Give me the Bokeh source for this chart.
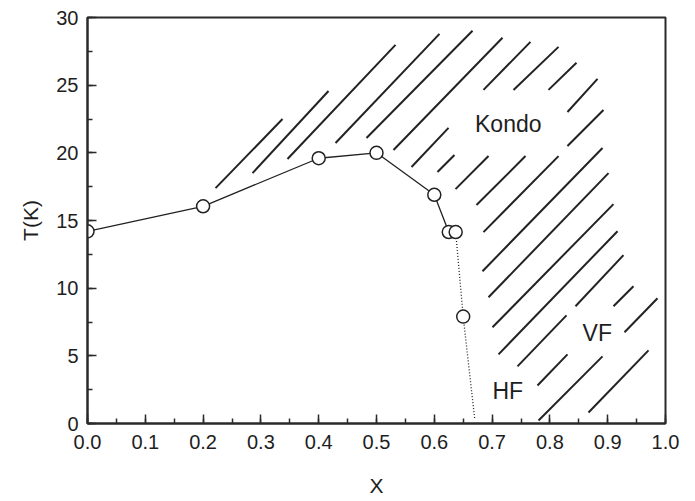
from bokeh.plotting import figure
from bokeh.models import Range1d, SingleIntervalTicker, PrintfTickFormatter, ColumnDataSource, Label
from bokeh.embed import file_html
from bokeh.resources import INLINE

# measured points (x, T in K)
x_pts = [0.0, 0.2, 0.4, 0.5, 0.6, 0.625, 0.637, 0.65]
t_pts = [14.2, 16.05, 19.6, 20.0, 16.9, 14.15, 14.15, 7.9]

# solid connecting line
x_solid = [0.0, 0.2, 0.4, 0.5, 0.6, 0.625, 0.637]
t_solid = [14.2, 16.05, 19.6, 20.0, 16.9, 14.15, 14.15]

# dotted extrapolation
x_dot = [0.637, 0.65, 0.67]
t_dot = [14.15, 7.9, 0.3]

# hatch strokes of the Kondo region (start/end in data units)
hx0 = [0.2215, 0.2855, 0.3460, 0.4291, 0.4827, 0.5294, 0.5606, 0.6055, 0.6851, 0.7370,
       0.7976, 0.8304, 0.8304, 0.6367, 0.6730, 0.6851, 0.6834, 0.6938, 0.7007, 0.7111,
       0.7439, 0.8443, 0.9100, 0.9291, 0.7785, 0.7803, 0.8668]
hy0 = [17.39, 18.50, 19.54, 20.73, 21.10, 20.21, 18.95, 18.58, 24.65, 24.65,
       24.65, 23.02, 20.50, 17.32, 16.14, 14.14, 11.25, 9.33, 7.11, 5.11,
       4.22, 8.66, 8.66, 6.74, 2.81, 0.22, 0.81]
hx1 = [0.3374, 0.4170, 0.5329, 0.6090, 0.6661, 0.7180, 0.6246, 0.6349, 0.7664, 0.8149,
       0.8460, 0.8824, 0.8927, 0.6938, 0.7578, 0.8149, 0.8910, 0.9014, 0.9100, 0.9170,
       0.8287, 0.9273, 0.9446, 0.9862, 0.8304, 0.8910, 0.9706]
hy1 = [22.50, 24.57, 27.98, 28.79, 29.02, 28.50, 21.84, 19.84, 28.20, 27.83,
       26.65, 25.46, 23.17, 19.76, 19.76, 19.76, 20.36, 18.50, 16.21, 14.21,
       7.99, 12.44, 10.14, 9.25, 5.11, 4.96, 5.40]

# region labels
region_names = ["Kondo", "VF", "HF"]
region_x = [0.728, 0.882, 0.727]
region_y = [22.1, 6.7, 2.4]

x_ticks_interval = 0.1
y_ticks_interval = 5

FONT = "Liberation Sans"
INK = "#1e1e1e"

p = figure(width=695, height=501, output_backend="svg", toolbar_location=None,
           x_range=Range1d(0, 1.0), y_range=Range1d(0, 30),
           min_border_left=87, min_border_right=30, min_border_top=17, min_border_bottom=78)
p.background_fill_color = "white"
p.border_fill_color = "white"
p.grid.visible = False
p.outline_line_color = "#2a2a2a"
p.outline_line_width = 2

p.xaxis.ticker = SingleIntervalTicker(interval=x_ticks_interval, num_minor_ticks=2)
p.yaxis.ticker = SingleIntervalTicker(interval=y_ticks_interval, num_minor_ticks=2)
p.xaxis.formatter = PrintfTickFormatter(format="%.1f")
p.yaxis.formatter = PrintfTickFormatter(format="%d")

for ax in (p.xaxis, p.yaxis):
    ax.axis_line_color = "#2a2a2a"
    ax.axis_line_width = 2
    ax.major_tick_line_color = "#2a2a2a"
    ax.minor_tick_line_color = "#2a2a2a"
    ax.major_tick_line_width = 1.5
    ax.minor_tick_line_width = 1.5
    ax.major_tick_in = 9
    ax.major_tick_out = 0
    ax.minor_tick_in = 5
    ax.minor_tick_out = 0
    ax.major_label_text_font = FONT
    ax.major_label_text_font_size = "20px"
    ax.major_label_text_color = INK
    ax.axis_label_text_font = FONT
    ax.axis_label_text_font_size = "21px"
    ax.axis_label_text_font_style = "normal"
    ax.axis_label_text_color = INK

p.xaxis.axis_label = "X"
p.yaxis.axis_label = "T(K)"
p.xaxis.major_label_standoff = 11
p.yaxis.major_label_standoff = 9
p.xaxis.axis_label_standoff = 22
p.yaxis.axis_label_standoff = 11

hatch = ColumnDataSource(dict(x0=hx0, y0=hy0, x1=hx1, y1=hy1))
p.segment(x0="x0", y0="y0", x1="x1", y1="y1", source=hatch,
          line_color="#222222", line_width=2)

p.line(x_solid, t_solid, line_color="#222222", line_width=1.3)
p.line(x_dot, t_dot, line_color="#222222", line_width=1.3, line_dash="1 2")
p.scatter(x_pts, t_pts, marker="circle", size=13, fill_color="white",
          line_color="#222222", line_width=1.5)

for name, lx, ly in zip(region_names, region_x, region_y):
    p.add_layout(Label(x=lx, y=ly, text=name, text_font=FONT, text_font_size="23px",
                       text_color=INK, text_align="center", text_baseline="middle"))

open("out.html", "w").write(file_html(p, INLINE))
